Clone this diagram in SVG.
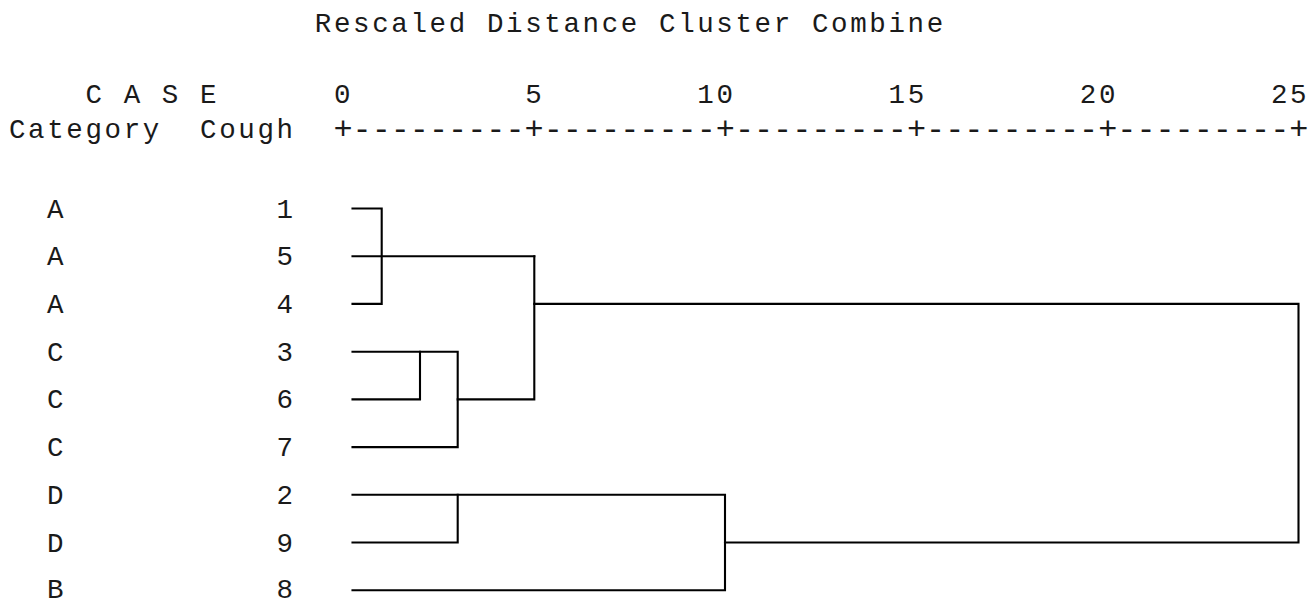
<svg xmlns="http://www.w3.org/2000/svg" width="1315" height="601" viewBox="0 0 1315 601">
<style>
text{font-family:"Liberation Mono","Courier New",monospace;font-size:27.5px;letter-spacing:2.62px;fill:#1a1a1a;}
text.axis{font-size:31.87px;letter-spacing:0;}
.ln{fill:none;stroke:#000;stroke-width:2.1;stroke-linejoin:miter;stroke-linecap:square;}
</style>
<rect width="1315" height="601" fill="#fff"/>
<g id="header">
<text x="314.8" y="31.5">Rescaled Distance Cluster Combine</text>
<text x="8.9" y="103" xml:space="preserve">    C A S E      0         5        10        15        20        25</text>
<text x="8.9" y="138" xml:space="preserve">Category  Cough</text>
<text class="axis" x="333.4" y="139">+---------+---------+---------+---------+---------+</text>
</g>
<g id="case1"><text x="47.1" y="217.5">A</text><text x="276.6" y="217.5">1</text></g>
<g id="case5"><text x="47.1" y="265.2">A</text><text x="276.6" y="265.2">5</text></g>
<g id="case4"><text x="47.1" y="312.9">A</text><text x="276.6" y="312.9">4</text></g>
<g id="case3"><text x="47.1" y="360.7">C</text><text x="276.6" y="360.7">3</text></g>
<g id="case6"><text x="47.1" y="408.4">C</text><text x="276.6" y="408.4">6</text></g>
<g id="case7"><text x="47.1" y="456.1">C</text><text x="276.6" y="456.1">7</text></g>
<g id="case2"><text x="47.1" y="503.8">D</text><text x="276.6" y="503.8">2</text></g>
<g id="case9"><text x="47.1" y="551.5">D</text><text x="276.6" y="551.5">9</text></g>
<g id="case8"><text x="47.1" y="597.5">B</text><text x="276.6" y="597.5">8</text></g>
<g id="connectors" class="ln">
<path class="ln" d="M352.5,208.5H381.7V303.9H352.5"/>
<path class="ln" d="M352.5,256.2H534.3"/>
<path class="ln" d="M352.5,351.7H457.7V447.1H352.5"/>
<path class="ln" d="M352.5,399.4H420V351.7"/>
<path class="ln" d="M457.7,399.4H534.3V256.2"/>
<path class="ln" d="M534.3,303.9H1298.5V542.5H725"/>
<path class="ln" d="M352.5,494.8H725V590.3H352.5"/>
<path class="ln" d="M352.5,542.5H457.7V494.8"/>
</g>
</svg>
